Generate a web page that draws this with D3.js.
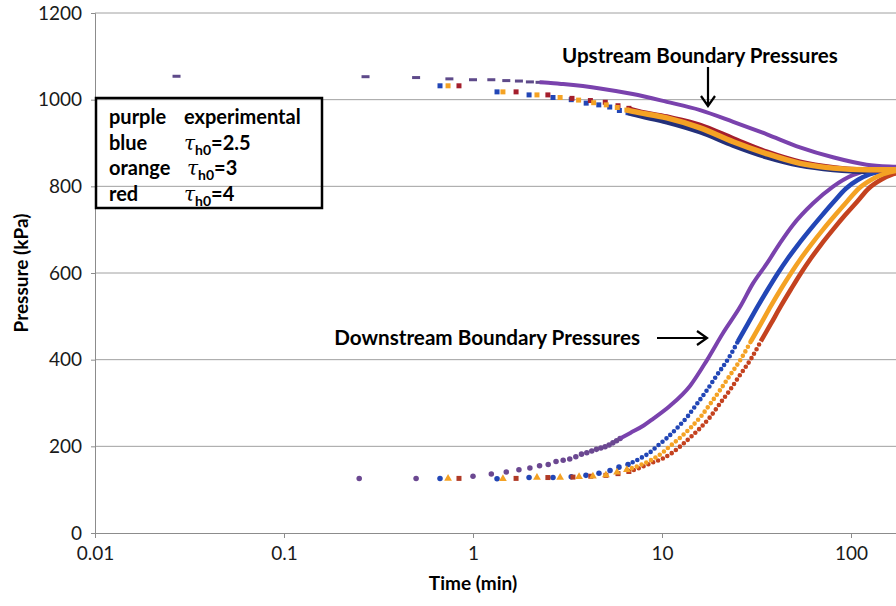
<!DOCTYPE html>
<html>
<head>
<meta charset="utf-8">
<script src="https://cdn.jsdelivr.net/npm/d3@7"></script>
<style>
  body { margin: 0; background: #fff; }
  svg { display: block; font-family: Lato, "Open Sans", sans-serif; }
</style>
</head>
<body>
<div id="chart"></div>
<script>
// axis ticks
const yTicks = [0, 200, 400, 600, 800, 1000, 1200];
const xTicks = [0.01, 0.1, 1, 10, 100];
const xTickLabels = ["0.01", "0.1", "1", "10", "100"];

// [time (min), pressure (kPa)]
// upstream, experimental (purple)
const upExpMarks = [[0.027,1054],[0.27,1053],[0.5,1051],[0.75,1048],[1.0,1046],[1.25,1046],[1.5,1044],[1.75,1043],[2.0,1041],[2.25,1040]];
const upExpCurve = [[2.25,1040],[2.5,1039],[3.0,1036],[4.7,1026],[7.0,1013],[10.6,995],[15.9,976],[23.8,949],[35.9,920],[53.7,890],[80.3,867],[121,850],[173,845],[260,842]];
// upstream, models
const upBlueMarks = [[0.669,1032],[1.34,1018],[1.98,1011],[2.65,1005],[3.31,1000],[3.97,992],[4.63,988],[5.29,983],[5.95,975],[6.61,970]];
const upBlueCurve = [[6.61,970],[7.0,967],[10.6,949],[15.9,926],[23.8,895],[35.9,868],[53.7,849],[80.3,839],[121,835],[173,835],[260,837]];
const upOrangeMarks = [[0.738,1032],[1.44,1018],[2.18,1011],[2.89,1005],[3.62,999],[4.35,993],[5.07,988],[5.80,982],[6.52,976]];
const upOrangeCurve = [[6.52,976],[7.0,973],[10.6,958],[15.9,935],[23.8,903],[35.9,875],[53.7,853],[80.3,842],[121,838],[173,838],[260,838]];
const upRedMarks = [[0.843,1032],[1.69,1018],[2.49,1011],[3.34,1003],[4.18,998],[5.01,994],[5.85,986],[6.68,980]];
const upRedCurve = [[6.68,980],[7.0,977],[10.6,961],[15.9,942],[23.8,911],[35.9,880],[53.7,857],[80.3,844],[121,838],[173,836],[260,837]];

// downstream, experimental (purple)
const downExpMarks = [[0.25,126],[0.5,126],[1.0,131],[1.25,136],[1.5,141],[1.75,146],[2.0,150],[2.25,155],[2.5,158],[2.75,165],[3.0,168],[3.25,171],[3.5,176],[3.75,182],[4.0,185],[4.25,189],[4.5,193],[4.75,196],[5.0,199],[5.25,203],[5.5,208],[5.75,213],[6.0,218]];
const downExpCurve = [[6.0,218],[6.8,231],[8.0,248],[9.0,264],[11.0,293],[14.1,340],[17.3,399],[21.0,461],[25.9,522],[30.3,576],[35.9,622],[42.1,669],[49.3,711],[63,761],[80,799],[102,826],[131,838],[173,841],[260,842]];
// downstream, models
const downBlueMarks = [[0.669,126],[1.34,125],[1.98,128],[2.65,128],[3.31,130],[3.96,133],[4.64,138],[5.31,144],[5.92,152],[6.61,158]];
const downBlueCurve = [[6.61,158],[7.65,172],[8.64,186],[9.41,200],[10.6,219],[12.0,242],[13.6,268],[15.3,298],[17.3,330],[19.5,364],[22.4,402],[25.2,442],[28.5,483],[32.2,524],[36.4,563],[41.1,600],[46.4,634],[52.4,665],[60.7,700],[70.2,733],[81.3,765],[94.1,795],[109,815],[126,828],[151,836],[173,839],[260,841]];
const downOrangeMarks = [[0.738,126],[1.44,125],[2.18,128],[2.89,128],[3.64,130],[4.31,131],[5.05,134],[5.78,140],[6.52,146]];
const downOrangeCurve = [[6.52,146],[7.6,156],[8.9,170],[10.1,186],[11.0,200],[12.4,219],[14.1,242],[16.0,268],[18.0,298],[20.3,330],[22.9,364],[26.2,402],[29.5,442],[33.4,483],[37.7,524],[42.6,563],[48.2,600],[54.4,634],[61.4,665],[71.1,700],[82.3,733],[95.3,765],[110,795],[128,815],[148,828],[177,836],[260,840]];
const downRedMarks = [[0.843,126],[1.69,126],[2.49,128],[3.38,129],[4.2,131],[5.05,133],[5.85,137],[6.68,142]];
const downRedCurve = [[6.68,142],[7.6,150],[8.6,160],[10.1,172],[11.4,186],[12.5,200],[14.0,219],[15.9,242],[18.0,268],[20.2,298],[22.9,330],[25.8,364],[29.6,402],[33.3,442],[37.7,483],[42.6,524],[48.2,563],[54.4,600],[61.4,634],[69.3,665],[80.3,700],[92.9,733],[108,765],[124,795],[144,815],[167,828],[200,836],[260,840]];

const legendRows = [["purple", "experimental", null], ["blue", "2.5", true], ["orange", "3", true], ["red", "4", true]];

const width = 896, height = 606;
const colors = {purple: "#7a42ad", purpleDark: "#5e4a8a", blue: "#2246b6", orange: "#f4a224", redUp: "#a41e2c", redDown: "#c4421f"};

const svg = d3.select("#chart")
  .append("svg")
  .attr("width", width)
  .attr("height", height);

const x = d3.scaleLog().domain([0.01, 1000]).range([95, 1040]);
const y = d3.scaleLinear().domain([0, 1200]).range([533, 13]);

// gridlines
svg.append("g")
  .selectAll("line")
  .data(yTicks.filter(d => d > 0))
  .join("line")
  .attr("x1", x(0.01)).attr("x2", width)
  .attr("y1", d => y(d)).attr("y2", d => y(d))
  .attr("stroke", "#a0a0a0")
  .attr("stroke-width", 1);

// y axis
const yAxis = svg.append("g")
  .attr("transform", `translate(${x(0.01)},0)`)
  .call(d3.axisLeft(y).tickValues(yTicks).tickSize(4).tickPadding(9).tickFormat(d3.format("d")));
yAxis.select(".domain").attr("stroke", "#8c8c8c");
yAxis.selectAll(".tick line").attr("stroke", "#8c8c8c");
yAxis.selectAll("text").attr("font-size", 19).attr("fill", "#1a1a1a").attr("font-family", "Lato, sans-serif");

// x axis
const xAxis = svg.append("g")
  .attr("transform", `translate(0,${y(0)})`)
  .call(d3.axisBottom(x).tickValues(xTicks).tickSize(5).tickPadding(9).tickFormat((d, i) => xTickLabels[i]));
xAxis.select(".domain").attr("stroke", "#8c8c8c");
xAxis.selectAll(".tick line").attr("stroke", "#8c8c8c");
xAxis.selectAll("text").attr("font-size", 19).attr("fill", "#1a1a1a").attr("font-family", "Lato, sans-serif");

// axis titles
svg.append("text")
  .attr("transform", `translate(28,${(y(0) + y(1200)) / 2}) rotate(-90)`)
  .attr("text-anchor", "middle")
  .attr("font-size", 19).attr("font-weight", "bold")
  .text("Pressure (kPa)");
svg.append("text")
  .attr("x", x(1)).attr("y", 590)
  .attr("text-anchor", "middle")
  .attr("font-size", 19).attr("font-weight", "bold")
  .text("Time (min)");

// series helpers
const line = d3.line().x(d => x(d[0])).y(d => y(d[1])).curve(d3.curveMonotoneX);
const plot = svg.append("g");

function curve(data, color, w, dash) {
  plot.append("path")
    .datum(data)
    .attr("d", line)
    .attr("fill", "none")
    .attr("stroke", color)
    .attr("stroke-width", w)
    .attr("stroke-linecap", dash ? "round" : "butt")
    .attr("stroke-dasharray", dash || null);
}

function squares(data, color, s) {
  plot.append("g").selectAll("rect")
    .data(data).join("rect")
    .attr("x", d => x(d[0]) - s / 2).attr("y", d => y(d[1]) - s / 2)
    .attr("width", s).attr("height", s)
    .attr("fill", color);
}

function dashes(data, color) {
  plot.append("g").selectAll("rect")
    .data(data).join("rect")
    .attr("x", d => x(d[0]) - 4).attr("y", d => y(d[1]) - 1.5)
    .attr("width", 8).attr("height", 3)
    .attr("fill", color);
}

function symbols(data, type, size, color) {
  plot.append("g").selectAll("path")
    .data(data).join("path")
    .attr("transform", d => `translate(${x(d[0])},${y(d[1])})`)
    .attr("d", d3.symbol(type, size))
    .attr("fill", color);
}

// split a downstream model curve into dotted lower part and solid upper part
function dottedThenSolid(data, color) {
  curve(data.filter(d => d[1] <= 460), color, 4.6, "0 5.2");
  curve(data.filter(d => d[1] >= 420), color, 4.6);
}

// purple (experimental)
dashes(upExpMarks, colors.purpleDark);
curve(upExpCurve, colors.purple, 4);
symbols(downExpMarks, d3.symbolCircle, 24, "#6b4891");
curve(downExpCurve, colors.purple, 4);

// blue
squares(upBlueMarks, colors.blue, 5);
curve(upBlueCurve, "#23307a", 5.5);
symbols(downBlueMarks, d3.symbolCircle, 24, colors.blue);
dottedThenSolid(downBlueCurve, colors.blue);

// red
squares(upRedMarks, colors.redUp, 5);
curve(upRedCurve, colors.redUp, 4.5);
squares(downRedMarks, "#b03a26", 5);
dottedThenSolid(downRedCurve, colors.redDown);

// orange
squares(upOrangeMarks, colors.orange, 5);
curve(upOrangeCurve, colors.orange, 5.5);
symbols(downOrangeMarks, d3.symbolTriangle, 26, colors.orange);
dottedThenSolid(downOrangeCurve, colors.orange);

// annotations
function fitWidth(sel, w) {
  const cur = sel.node().getComputedTextLength();
  sel.attr("font-size", parseFloat(sel.attr("font-size")) * w / cur);
}

const upLabel = svg.append("text")
  .attr("x", 562).attr("y", 63)
  .attr("font-size", 20).attr("font-weight", "bold")
  .text("Upstream Boundary Pressures");
fitWidth(upLabel, 276);

const downLabel = svg.append("text")
  .attr("x", 640).attr("y", 345)
  .attr("text-anchor", "end")
  .attr("font-size", 20).attr("font-weight", "bold")
  .text("Downstream Boundary Pressures");
fitWidth(downLabel, 306);

const arrows = svg.append("g")
  .attr("fill", "none").attr("stroke", "#000").attr("stroke-width", 2.2);
arrows.append("path").attr("d", "M708,67 V106 M701,96 L708,106 L715,96");
arrows.append("path").attr("d", "M657,338 H707 M697,331 L707,338 L697,345");

// legend box
const legend = svg.append("g");
legend.append("rect")
  .attr("x", 96).attr("y", 98)
  .attr("width", 226).attr("height", 110)
  .attr("fill", "none")
  .attr("stroke", "#000").attr("stroke-width", 2.5);

const rows = legend.selectAll("g.row")
  .data(legendRows)
  .join("g")
  .attr("class", "row")
  .attr("transform", (d, i) => `translate(0,${124 + i * 25.5})`);
rows.append("text")
  .attr("x", 109).attr("font-size", 20).attr("font-weight", "bold")
  .text(d => d[0]);
const val = rows.append("text")
  .attr("x", (d, i) => i === 2 ? 187 : 184)
  .attr("font-size", 20).attr("font-weight", "bold");
val.filter(d => !d[2]).text(d => d[1]);
val.filter(d => d[2]).each(function(d) {
  const t = d3.select(this);
  t.append("tspan").attr("font-style", "italic").attr("font-weight", "normal").attr("font-family", "DejaVu Serif, serif").text("\u03c4");
  t.append("tspan").attr("font-size", "70%").attr("dy", 5).text("h0");
  t.append("tspan").attr("dy", -5).text("=" + d[1]);
});
</script>
</body>
</html>
